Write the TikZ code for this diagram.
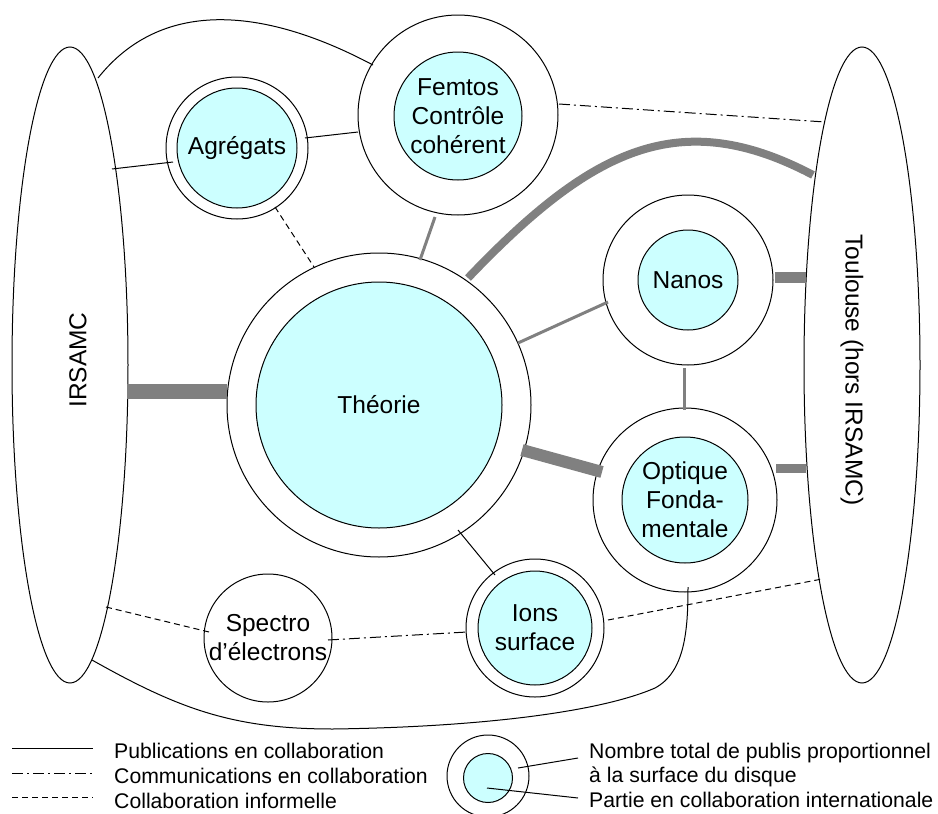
\documentclass[tikz,border=0pt]{standalone}
\usepackage{fontspec}
\setmainfont{Liberation Sans}
\usetikzlibrary{shapes.geometric,calc}
\definecolor{lcyan}{HTML}{CCFFFF}
\definecolor{bargray}{HTML}{808080}
\begin{document}
\begin{tikzpicture}[x=1pt,y=-1pt,
  ring/.style={circle,draw,line width=1pt,fill=white,inner sep=0pt,outer sep=0pt,minimum size=#1},
  core/.style={circle,draw,line width=1pt,fill=lcyan,inner sep=0pt,outer sep=0pt,minimum size=#1,align=center,font=\fontsize{24.5}{29}\selectfont},
  sitebox/.style={ellipse,draw,line width=1pt,fill=white,inner sep=0pt,outer sep=0pt,minimum width=116pt,minimum height=636pt},
  pub/.style={line width=1pt},
  comm/.style={line width=1pt,dash pattern=on 11pt off 4pt on 2pt off 4pt},
  info/.style={line width=1pt,dash pattern=on 6pt off 4pt},
  gbar/.style={draw=bargray,line width=#1},
  lbl/.style={font=\fontsize{24.5}{29}\selectfont,inner sep=0pt,align=center},
  legtext/.style={font=\fontsize{21.2}{25}\selectfont,anchor=base west,inner sep=0pt}
]
\useasboundingbox (0,0) rectangle (938,814);

% sites
\node[sitebox] (irs) at (70,365) {};
\node[lbl,rotate=90] (irst) at (78,360) {IRSAMC};
\node[sitebox] (tou) at (862,365) {};
\node[lbl,rotate=-90] (tout) at (852,370) {Toulouse (hors IRSAMC)};

% teams
\node[ring=304pt] (theo) at (379,405) {};
\node[core=246pt] (theoI) at (379,405) {Théorie};
\node[ring=142pt] (agr) at (237,148) {};
\node[core=120pt] (agrI) at (237,148) {Agrégats};
\node[ring=200pt] (fem) at (458,115) {};
\node[core=128pt] (femI) at (458,116) {Femtos\\Contrôle\\cohérent};
\node[ring=170pt] (nan) at (688,280) {};
\node[core=100pt] (nanI) at (688,280) {Nanos};
\node[ring=184pt] (opt) at (685,500) {};
\node[core=126pt] (optI) at (685,500) {Optique\\Fonda-\\mentale};
\node[ring=138pt] (ion) at (535,628) {};
\node[core=114pt] (ionI) at (535,628) {Ions\\surface};
\node[ring=128pt,lbl] (spe) at (268,638) {Spectro\\d’électrons};

% publications (solid)
\draw[pub] ($(irs)+(42,-196)$) -- ($(agr)+(-64,14)$);
\draw[pub] ($(agr)+(68,-10)$) -- ($(fem)+(-100,17)$);
\draw[pub] ($(irs)+(28,-287)$) .. controls +(62,-78) and +(-113,-60) .. ($(fem)+(-85,-50)$);
\draw[pub] ($(theo)+(79,125)$) -- ($(ion)+(-40,-53)$);
\coordinate (bc1) at (333,729);
\coordinate (bc2) at (655,688);
\draw[pub] ($(irs)+(22,295)$) .. controls +(87,49) and +(-100,0) .. (bc1)
  .. controls +(147,-2) and +(-55,24) .. (bc2)
  .. controls +(30,-16) and +(0,43) .. ($(opt)+(3,87)$);

% communications (dash-dot)
\draw[comm] ($(fem)+(101,-11)$) -- ($(tou)+(-37,-243)$);
\draw[comm] ($(spe)+(60,2)$) -- ($(ion)+(-68,4)$);

% informal (dashed)
\draw[info] ($(agr)+(38,59)$) -- ($(theo)+(-65,-138)$);
\draw[info] ($(irs)+(36,242)$) -- ($(spe)+(-59,-6)$);
\draw[info] ($(ion)+(73,-8)$) -- ($(tou)+(-40,214)$);

% grey links
\draw[gbar=3pt] ($(fem)+(-23,102)$) -- ($(theo)+(41,-145)$);
\draw[gbar=3pt] ($(theo)+(139,-62)$) -- ($(nan)+(-80,22)$);
\draw[gbar=3pt] ($(nan)+(-4,88)$) -- ($(opt)+(-1,-90)$);
\draw[gbar=8pt] ($(theo)+(89,-127)$) .. controls +(124,-130) and +(-133,-70) .. ($(tou)+(-49,-190)$);
\draw[gbar=11pt] ($(nan)+(87,-2.5)$) -- ($(tou)+(-56,-87.5)$);
\draw[gbar=12pt] ($(theo)+(143,45)$) -- ($(opt)+(-83,-28)$);
\draw[gbar=9pt] ($(opt)+(91,-32)$) -- ($(tou)+(-56,103)$);
\draw[gbar=15pt] ($(irs)+(57,26)$) -- ($(theo)+(-152,-14)$);

% legend
\coordinate (s1a) at (12,748); \coordinate (s1b) at (93,748);
\coordinate (s2a) at (12,773); \coordinate (s2b) at (93,773);
\coordinate (s3a) at (12,797); \coordinate (s3b) at (93,797);
\draw[pub] (s1a) -- (s1b);
\draw[comm] (s2a) -- (s2b);
\draw[info] (s3a) -- (s3b);
\node[legtext] (t1) at (114,758) {Publications en collaboration};
\node[legtext] (t2) at (114,783) {Communications en collaboration};
\node[legtext] (t3) at (114,808) {Collaboration informelle};
\node[ring=82pt] (leg) at (488,776) {};
\node[core=49pt] (legI) at (488,778) {};
\node[legtext] (t4) at (589,758) {Nombre total de publis proportionnel};
\node[legtext] (t5) at (589,782) {à la surface du disque};
\node[legtext] (t6) at (589,807) {Partie en collaboration internationale};
\coordinate (p1) at (578,758);
\coordinate (p2) at (578,798);
\draw[pub] ($(leg)+(30,-8)$) -- (p1);
\draw[pub] ($(legI)+(-1,10)$) -- (p2);
\end{tikzpicture}
\end{document}
